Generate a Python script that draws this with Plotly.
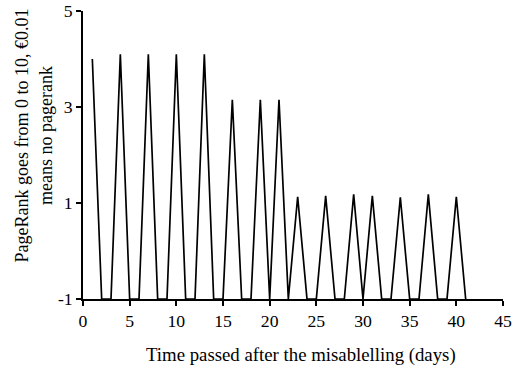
import plotly.graph_objects as go

days = [1, 2, 3, 4, 5, 6, 7, 8, 9, 10, 11, 12, 13, 14, 15, 16, 17, 18, 19, 20,
        21, 22, 23, 24, 25, 26, 27, 28, 29, 30, 31, 32, 33, 34, 35, 36, 37, 38, 39, 40, 41]
pagerank = [4.0, -1, -1, 4.1, -1, -1, 4.1, -1, -1, 4.1, -1, -1, 4.1, -1, -1, 3.15, -1, -1, 3.15, -1,
            3.15, -1, 1.13, -1, -1, 1.15, -1, -1, 1.18, -1, 1.15, -1, -1, 1.12, -1, -1, 1.18, -1, -1, 1.13, -1]

x_ticks = [0, 5, 10, 15, 20, 25, 30, 35, 40, 45]
y_ticks = [-1, 1, 3, 5]

font = "Liberation Serif, Times New Roman, serif"

fig = go.Figure()
fig.add_trace(go.Scatter(x=days, y=pagerank, mode="lines",
                         line=dict(color="black", width=1.7), showlegend=False))

axis_style = dict(showline=True, linecolor="black", linewidth=1.5,
                  ticks="outside", ticklen=5, tickwidth=1.5, tickcolor="black",
                  showgrid=False, zeroline=False, tickfont=dict(size=17.7),
                  automargin=False)

fig.update_layout(
    width=515, height=371,
    margin=dict(l=83, r=12, t=11, b=72),
    paper_bgcolor="white", plot_bgcolor="white",
    font=dict(family=font, size=17, color="black"),
    xaxis=dict(range=[0, 45], tickvals=x_ticks, ticktext=[str(v) for v in x_ticks], **axis_style),
    yaxis=dict(range=[-1, 5], tickvals=y_ticks, ticktext=[str(v) for v in y_ticks], **axis_style),
    annotations=[
        dict(text="Time passed after the misablelling (days)", xref="paper", yref="paper",
             x=0.519, y=-0.196, xanchor="center", yanchor="middle", showarrow=False,
             font=dict(size=18.8)),
        dict(text="PageRank goes from 0 to 10, €0.01<br>means no pagerank", xref="paper", yref="paper",
             x=-0.118, y=0.569, xanchor="center", yanchor="middle", showarrow=False,
             textangle=-90, font=dict(size=18)),
    ],
)

fig.write_html("out.html", config={"displayModeBar": False},
               post_script="document.body.style.margin='0px';document.body.style.padding='0px';")
